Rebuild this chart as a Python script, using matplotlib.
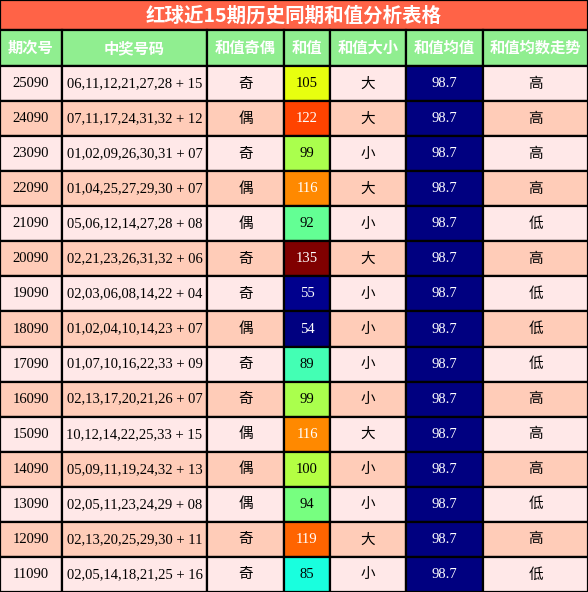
import matplotlib
matplotlib.use("Agg")
import matplotlib.pyplot as plt
from matplotlib.patches import Rectangle
import matplotlib.cm as cm

title = "红球近15期历史同期和值分析表格"
headers = ["期次号", "中奖号码", "和值奇偶", "和值", "和值大小", "和值均值", "和值均数走势"]
periods = ["25090","24090","23090","22090","21090","20090","19090","18090","17090","16090","15090","14090","13090","12090","11090"]
numbers = ["06,11,12,21,27,28 + 15","07,11,17,24,31,32 + 12","01,02,09,26,30,31 + 07",
           "01,04,25,27,29,30 + 07","05,06,12,14,27,28 + 08","02,21,23,26,31,32 + 06",
           "02,03,06,08,14,22 + 04","01,02,04,10,14,23 + 07","01,07,10,16,22,33 + 09",
           "02,13,17,20,21,26 + 07","10,12,14,22,25,33 + 15","05,09,11,19,24,32 + 13",
           "02,05,11,23,24,29 + 08","02,13,20,25,29,30 + 11","02,05,14,18,21,25 + 16"]
parity = ["奇","偶","奇","偶","偶","奇","奇","偶","奇","奇","偶","偶","偶","奇","奇"]
sums = [105,122,99,116,92,135,55,54,89,99,116,100,94,119,85]
size = ["大","大","小","大","小","大","小","小","小","小","大","小","小","大","小"]
mean = [98.7]*15
trend = ["高","高","高","高","低","高","低","低","低","高","高","高","低","高","低"]

W, H = 588, 592
fig = plt.figure(figsize=(W/100, H/100), dpi=100)
ax = fig.add_axes([0, 0, 1, 1])
ax.set_xlim(0, W); ax.set_ylim(H, 0); ax.axis("off")

cjk = ["Noto Sans CJK SC", "DejaVu Sans"]
serif = ["Liberation Serif", "Noto Sans CJK SC"]
xs = [0, 62, 207, 284, 330, 406, 483, 588]
title_h, head_y, head_h = 30, 30, 36
row_h = (H - head_y - head_h) / 15
lw = 1.6

ax.add_patch(Rectangle((0, 0), W, title_h, fc="#FF6347", ec="black", lw=lw))
ax.text(W/2, title_h/2 + 1, title, ha="center", va="center", color="white",
        fontsize=14, fontweight="bold", family=cjk)
for i, h in enumerate(headers):
    ax.add_patch(Rectangle((xs[i], head_y), xs[i+1]-xs[i], head_h, fc="#90EE90", ec="black", lw=lw))
    ax.text((xs[i]+xs[i+1])/2, head_y + head_h/2, h, ha="center", va="center",
            color="white", fontsize=11, fontweight="bold", family=cjk)

cmap = matplotlib.colormaps["jet"]
lo, hi = min(sums), max(sums)
for r in range(15):
    y = head_y + head_h + r*row_h
    bg = "#FFE8E8" if r % 2 == 0 else "#FFCCB8"
    vals = [periods[r], numbers[r], parity[r], str(sums[r]), size[r], f"{mean[r]}", trend[r]]
    for c in range(7):
        fc = bg; tc = "black"
        if c == 3:
            fc = cmap((sums[r]-lo)/(hi-lo))
            tc = "white" if (sums[r] >= 110 or sums[r] <= 60) else "black"
        if c == 5:
            fc = "#000080"; tc = "white"
        ax.add_patch(Rectangle((xs[c], y), xs[c+1]-xs[c], row_h, fc=fc, ec="black", lw=lw))
        fam = cjk if c in (2, 4, 6) else serif
        ax.text((xs[c]+xs[c+1])/2, y + row_h/2, vals[c], ha="center", va="center",
                color=tc, fontsize=10.5, family=fam)

fig.savefig("out.png", dpi=100)
